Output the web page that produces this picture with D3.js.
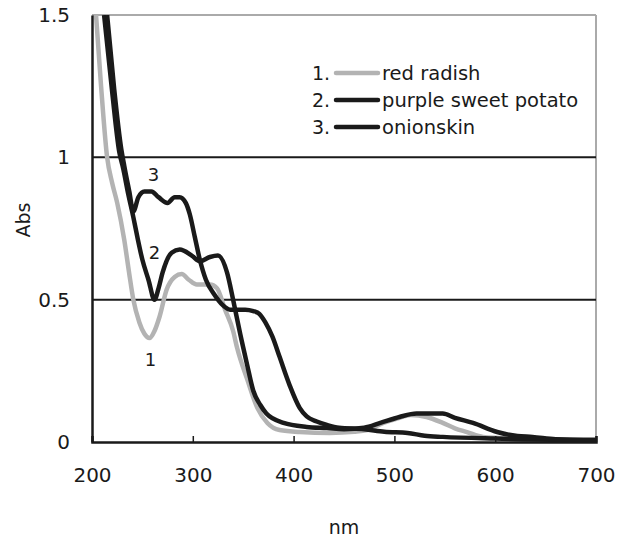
<!DOCTYPE html>
<html>
<head>
<meta charset="utf-8">
<script src="https://cdn.jsdelivr.net/npm/d3@7"></script>
<style>
  body { margin: 0; background: #fff; }
  text { font-family: "DejaVu Sans", sans-serif; fill: #1a1a1a; }
</style>
</head>
<body>
<div id="chart"></div>
<script>
// Absorbance spectra: [nm, Abs]
let redRadish = [
  [204, 1.5], [209, 1.25], [215, 1.0], [220, 0.91], [225, 0.84], [232, 0.71],
  [237, 0.59], [241, 0.50], [247, 0.42], [252, 0.38], [257, 0.365],
  [262, 0.39], [267, 0.44], [274, 0.535], [282, 0.58], [289, 0.59], [296, 0.57],
  [304, 0.553], [317, 0.553], [324, 0.54], [332, 0.465], [340, 0.39], [344, 0.33],
  [354, 0.22], [364, 0.12], [374, 0.067], [386, 0.042], [406, 0.035], [436, 0.032],
  [460, 0.036], [473, 0.042], [489, 0.067], [505, 0.085], [516, 0.095], [532, 0.088],
  [548, 0.067], [560, 0.048], [572, 0.035], [588, 0.018], [607, 0.014], [630, 0.008],
  [700, 0.007]
];
let purpleSweetPotato = [
  [212, 1.5], [220, 1.23], [227, 1.02], [231, 0.96], [236, 0.87], [241, 0.79],
  [245, 0.72], [250, 0.64], [256, 0.57], [262, 0.50], [266, 0.54], [270, 0.595],
  [279, 0.665], [287, 0.676], [299, 0.655], [307, 0.635], [317, 0.65], [325, 0.655],
  [334, 0.595], [340, 0.50], [347, 0.38], [354, 0.27], [360, 0.18], [367, 0.13],
  [373, 0.10], [390, 0.067], [413, 0.053], [433, 0.049], [450, 0.045], [470, 0.05],
  [486, 0.067], [505, 0.088], [522, 0.10], [548, 0.10], [560, 0.085], [578, 0.067],
  [602, 0.035], [622, 0.021], [637, 0.018], [660, 0.01], [700, 0.007]
];
let onionskin = [
  [215, 1.5], [222, 1.24], [229, 1.03], [232, 0.97], [237, 0.88], [241, 0.81],
  [246, 0.86], [252, 0.88], [259, 0.88], [266, 0.86], [275, 0.84], [282, 0.86],
  [287, 0.86], [293, 0.84], [297, 0.80], [302, 0.72], [307, 0.64], [313, 0.57],
  [321, 0.52], [330, 0.48], [337, 0.465], [352, 0.465], [360, 0.46], [366, 0.45],
  [372, 0.42], [379, 0.37], [386, 0.30], [396, 0.20], [406, 0.12], [413, 0.09],
  [423, 0.072], [433, 0.06], [445, 0.05], [470, 0.045], [490, 0.036], [513, 0.032],
  [530, 0.022], [548, 0.018], [600, 0.012], [700, 0.007]
];

let legendLabels = ['red radish', 'purple sweet potato', 'onionskin'];
let curveColors = ['#b3b3b3', '#1a1a1a', '#1a1a1a'];
let xTicks = [200, 300, 400, 500, 600, 700];
let yTicks = [0, 0.5, 1, 1.5];
let gridValues = [0.5, 1];

let width = 626, height = 537;
let margin = {left: 92, right: 30, top: 15, bottom: 95};
let plotW = width - margin.left - margin.right;
let plotH = height - margin.top - margin.bottom;

let svg = d3.select('#chart')
  .append('svg')
  .attr('width', width)
  .attr('height', height);

let x = d3.scaleLinear().domain([200, 700]).range([margin.left, margin.left + plotW]);
let y = d3.scaleLinear().domain([0, 1.5]).range([margin.top + plotH, margin.top]);

// frame: grey top/right, black left/bottom
svg.append('line')
  .attr('x1', x(200)).attr('x2', x(700))
  .attr('y1', y(1.5)).attr('y2', y(1.5))
  .attr('stroke', '#aaa').attr('stroke-width', 2);
svg.append('line')
  .attr('x1', x(700)).attr('x2', x(700))
  .attr('y1', y(1.5)).attr('y2', y(0))
  .attr('stroke', '#aaa').attr('stroke-width', 2);

svg.selectAll('.grid')
  .data(gridValues)
  .enter()
  .append('line')
  .attr('class', 'grid')
  .attr('x1', x(200)).attr('x2', x(700))
  .attr('y1', d => y(d)).attr('y2', d => y(d))
  .attr('stroke', '#1a1a1a').attr('stroke-width', 2);

svg.append('clipPath').attr('id', 'plotClip')
  .append('rect')
  .attr('x', x(200)).attr('y', y(1.5))
  .attr('width', plotW).attr('height', plotH);

let line = d3.line()
  .x(d => x(d[0]))
  .y(d => y(d[1]))
  .curve(d3.curveMonotoneX);

let series = [redRadish, purpleSweetPotato, onionskin];
// grey first so the black curves sit on top
svg.append('g')
  .attr('clip-path', 'url(#plotClip)')
  .selectAll('path')
  .data(series)
  .enter()
  .append('path')
  .attr('d', line)
  .attr('fill', 'none')
  .attr('stroke', (d, i) => curveColors[i])
  .attr('stroke-width', 4.5)
  .attr('stroke-linejoin', 'round');

// axes
let xAxis = d3.axisBottom(x)
  .tickValues(xTicks)
  .tickSize(-6)
  .tickPadding(26)
  .tickFormat(d3.format('d'));
let gx = svg.append('g')
  .attr('transform', 'translate(0,' + y(0) + ')')
  .call(xAxis);
gx.select('.domain').attr('stroke', '#1a1a1a').attr('stroke-width', 2.5);
gx.selectAll('.tick line').attr('stroke', '#1a1a1a').attr('stroke-width', 1.5);
gx.selectAll('.tick text')
  .style('font-size', '20px')
  .style('font-family', '"DejaVu Sans", sans-serif')
  .attr('fill', '#1a1a1a');

let yAxis = d3.axisLeft(y)
  .tickValues(yTicks)
  .tickSize(0)
  .tickPadding(22)
  .tickFormat(d => d === 0 ? '0' : d === 1 ? '1' : d3.format('.1f')(d));
let gy = svg.append('g')
  .attr('transform', 'translate(' + x(200) + ',0)')
  .call(yAxis);
gy.select('.domain').attr('stroke', '#1a1a1a').attr('stroke-width', 2.5);
gy.selectAll('.tick text')
  .style('font-size', '20px')
  .style('font-family', '"DejaVu Sans", sans-serif')
  .attr('fill', '#1a1a1a');

// axis titles
svg.append('text')
  .attr('x', x(450))
  .attr('y', 527)
  .attr('text-anchor', 'middle')
  .attr('dominant-baseline', 'central')
  .style('font-size', '19px')
  .text('nm');
svg.append('text')
  .attr('transform', 'translate(23,220) rotate(-90)')
  .attr('text-anchor', 'middle')
  .attr('dominant-baseline', 'central')
  .style('font-size', '19px')
  .text('Abs');

// legend
let legend = svg.append('g').attr('transform', 'translate(312,73)');
legendLabels.forEach(function(label, i) {
  let row = legend.append('g').attr('transform', 'translate(0,' + (i * 27) + ')');
  row.append('text')
    .attr('x', 0).attr('y', 0)
    .attr('dominant-baseline', 'central')
    .style('font-size', '19px')
    .text((i + 1) + '.');
  row.append('line')
    .attr('x1', 24).attr('x2', 66)
    .attr('y1', 0).attr('y2', 0)
    .attr('stroke', curveColors[i])
    .attr('stroke-width', 4.5)
    .attr('stroke-linecap', 'round');
  row.append('text')
    .attr('x', 70).attr('y', 0)
    .attr('dominant-baseline', 'central')
    .style('font-size', '19.5px')
    .text(label);
});

// curve number labels
let curveLabels = [
  {n: '1', nm: 258, abs: 0.29},
  {n: '2', nm: 262, abs: 0.664},
  {n: '3', nm: 261, abs: 0.938}
];
svg.selectAll('.clabel')
  .data(curveLabels)
  .enter()
  .append('text')
  .attr('class', 'clabel')
  .attr('x', d => x(d.nm))
  .attr('y', d => y(d.abs))
  .attr('text-anchor', 'middle')
  .attr('dominant-baseline', 'central')
  .style('font-size', '18px')
  .text(d => d.n);
</script>
</body>
</html>
